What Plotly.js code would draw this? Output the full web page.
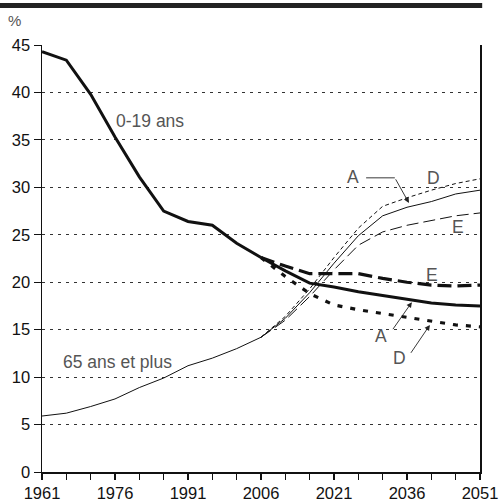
<!DOCTYPE html>
<html><head><meta charset="utf-8">
<script src="https://cdn.plot.ly/plotly-3.0.1.min.js"></script>
<style>html,body{margin:0;padding:0;background:#fff}#chart{width:500px;height:503px}</style>
</head><body><div id="chart"></div>
<script>
const yearsHist = [1961,1966,1971,1976,1981,1986,1991,1996,2001,2006];
const yearsProj = [2006,2011,2016,2021,2026,2031,2036,2041,2046,2051];
const youthHist = [44.3,43.4,39.8,35.3,31.1,27.5,26.4,26.0,24.1,22.6];
const youthA = [22.6,21.2,19.9,19.5,19.0,18.6,18.2,17.8,17.6,17.5];
const youthD = [22.6,20.6,18.8,17.6,17.1,16.7,16.3,15.9,15.5,15.3];
const youthE = [22.6,21.7,20.9,20.9,20.9,20.4,20.0,19.7,19.6,19.7];
const oldHist = [5.9,6.2,6.9,7.7,8.9,9.9,11.2,12.0,13.0,14.2];
const oldA = [14.2,16.2,18.9,22.0,24.9,27.0,27.9,28.5,29.3,29.7];
const oldD = [14.2,16.4,19.3,22.6,25.7,28.0,28.9,29.7,30.4,30.9];
const oldE = [14.2,16.0,18.5,21.3,23.9,25.3,26.0,26.5,27.0,27.3];
const xTicks = [1961,1976,1991,2006,2021,2036,2051];
const yTicks = [0,5,10,15,20,25,30,35,40,45];

const ink = '#111';
function tr(x,y,w,dash){return {x:x,y:y,type:'scatter',mode:'lines',line:{color:ink,width:w,dash:dash},hoverinfo:'skip',showlegend:false};}
const data = [
  tr(yearsHist,oldHist,1,'solid'),
  tr(yearsProj,oldA,1,'solid'),
  tr(yearsProj,oldD,1,'4px,3px'),
  tr(yearsProj,oldE,1,'12px,5px'),
  tr(yearsHist,youthHist,3,'solid'),
  tr(yearsProj,youthA,3,'solid'),
  tr(yearsProj,youthD,3.2,'5px,8px'),
  tr(yearsProj,youthE,3.2,'14px,6px')
];
const af = {family:'Liberation Sans, Arial, sans-serif',size:17.5,color:'#555'};
function txt(x,y,t){return {x:x,y:y,xref:'x',yref:'y',text:t,showarrow:false,font:af,xanchor:'center',yanchor:'middle'};}
function arr(x,y,ax,ay){return {x:x,y:y,ax:ax,ay:ay,xref:'x',yref:'y',axref:'x',ayref:'y',text:'',showarrow:true,arrowhead:2,arrowsize:1.2,arrowwidth:0.9,arrowcolor:'#222'};}
const annotations = [
  txt(1983.2,37.0,'0-19 ans'),
  txt(1976.6,11.6,'65 ans et plus'),
  txt(2024.9,31.1,'A'),
  txt(2041.5,31.0,'D'),
  txt(2046.5,25.8,'E'),
  txt(2041.1,20.8,'E'),
  txt(2030.7,14.3,'A'),
  txt(2034.4,12.0,'D'),
  arr(2036.4,28.35,2033.5,31.0),
  arr(2037.0,17.9,2032.9,14.9),
  arr(2040.7,15.5,2036.6,12.4),
  {x:-0.062,y:1.0585,xref:'paper',yref:'paper',xanchor:'center',yanchor:'middle',text:'%',showarrow:false,font:{family:'Liberation Sans, Arial, sans-serif',size:15,color:'#555'}}
];
const layout = {
  width:500,height:503,
  margin:{l:42,r:20,t:45,b:31},
  paper_bgcolor:'#fff',plot_bgcolor:'#fff',
  font:{family:'Liberation Sans, Arial, sans-serif',size:16.5,color:'#111'},
  xaxis:{range:[1961,2051],tickmode:'array',tickvals:xTicks,ticks:'outside',ticklen:6,tickcolor:ink,tickwidth:1.5,
    minor:{dtick:5,tick0:1961,ticks:'outside',ticklen:6,tickcolor:ink,tickwidth:1.5,showgrid:false},
    showgrid:false,zeroline:false,showline:true,linecolor:ink,linewidth:1.5,tickfont:{size:16.5,color:'#111'},fixedrange:true},
  yaxis:{range:[0,45],tickmode:'array',tickvals:yTicks,ticks:'outside',ticklen:7,tickcolor:ink,tickwidth:1,
    showgrid:true,gridcolor:'#333',griddash:'3px,5px',gridwidth:1,zeroline:false,showline:true,mirror:true,linecolor:ink,linewidth:1.5,
    tickfont:{size:16.5,color:'#111'},fixedrange:true},
  shapes:[
    {type:'line',xref:'paper',yref:'paper',x0:-0.096,x1:1.005,y0:1.0925,y1:1.0925,line:{color:'#222',width:5}},
    {type:'line',xref:'x',yref:'y',x0:2027.6,x1:2033.5,y0:31.0,y1:31.0,line:{color:'#222',width:0.9}}
  ],
  annotations:annotations
};
Plotly.newPlot('chart',data,layout,{staticPlot:true,displayModeBar:false});
</script></body></html>
